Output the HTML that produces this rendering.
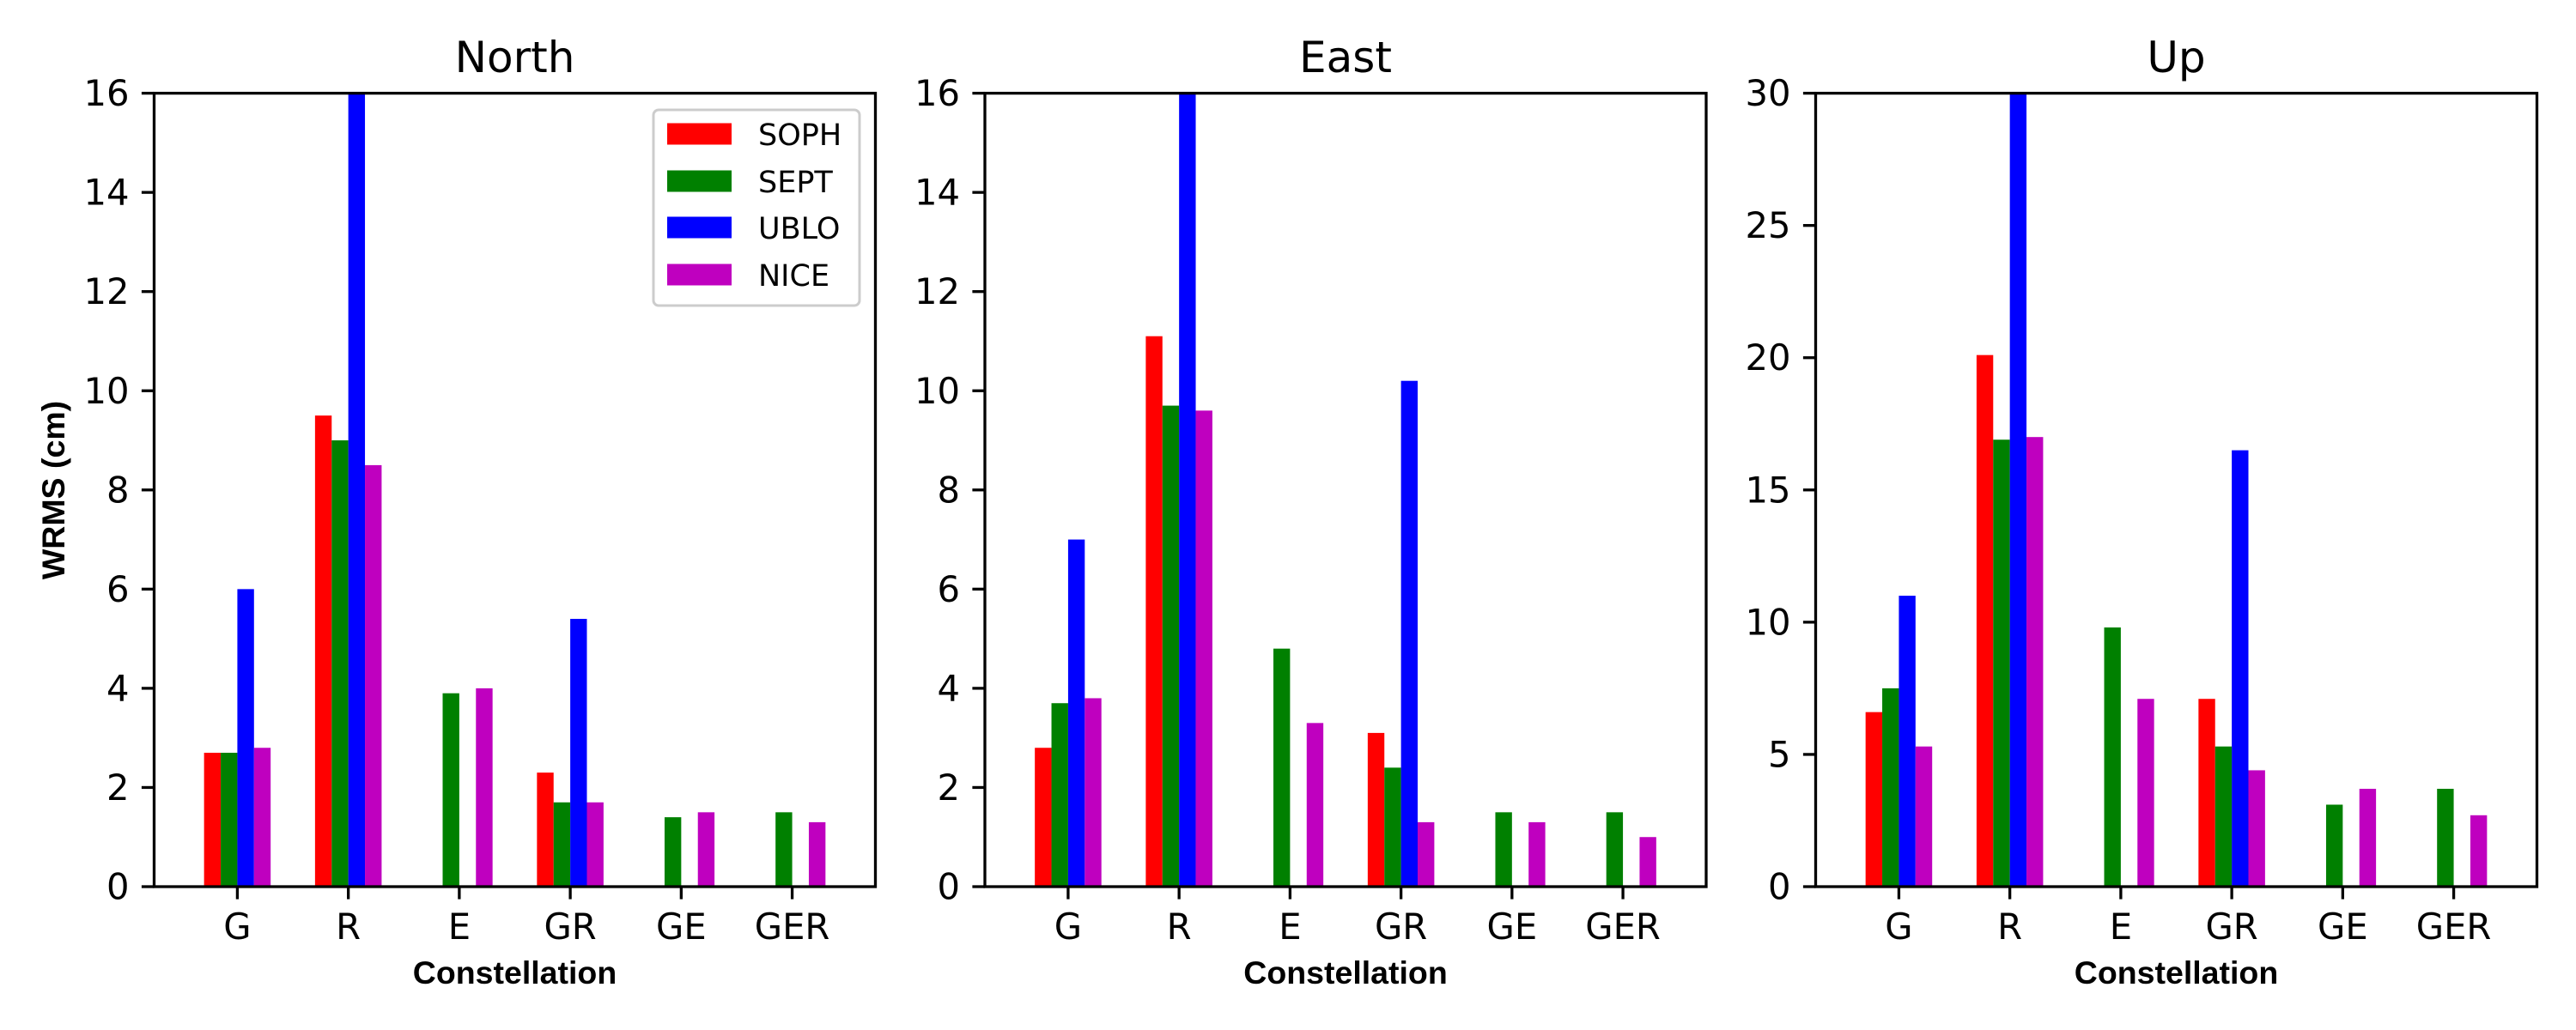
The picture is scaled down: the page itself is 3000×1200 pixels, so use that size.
<!DOCTYPE html>
<html><head><meta charset="utf-8"><style>
html,body{margin:0;padding:0;background:#fff;}
svg{display:block;}
text{font-family:"DejaVu Sans","Liberation Sans",sans-serif;fill:#000;}
.lab{font-family:"Liberation Sans",Arial,sans-serif;font-weight:bold;}
</style></head><body>
<svg id="chart" width="3000" height="1200" viewBox="0 0 3000 1200" xmlns="http://www.w3.org/2000/svg"></svg>
<script>
const categories = ["G","R","E","GR","GE","GER"];
const seriesNames = ["SOPH","SEPT","UBLO","NICE"];
const seriesColors = ["#ff0000","#008000","#0000ff","#bf00bf"];
const panelTitles = ["North","East","Up"];
const northSOPH = [2.7,9.5,0,2.3,0,0];
const northSEPT = [2.7,9.0,3.9,1.7,1.4,1.5];
const northUBLO = [6.0,17,0,5.4,0,0];
const northNICE = [2.8,8.5,4.0,1.7,1.5,1.3];
const eastSOPH = [2.8,11.1,0,3.1,0,0];
const eastSEPT = [3.7,9.7,4.8,2.4,1.5,1.5];
const eastUBLO = [7.0,18,0,10.2,0,0];
const eastNICE = [3.8,9.6,3.3,1.3,1.3,1.0];
const upSOPH = [6.6,20.1,0,7.1,0,0];
const upSEPT = [7.5,16.9,9.8,5.3,3.1,3.7];
const upUBLO = [11.0,32,0,16.5,0,0];
const upNICE = [5.3,17.0,7.1,4.4,3.7,2.7];
const northTicks = [0,2,4,6,8,10,12,14,16];
const eastTicks = [0,2,4,6,8,10,12,14,16];
const upTicks = [0,5,10,15,20,25,30];
const yMaxes = [16,16,30];

const NS="http://www.w3.org/2000/svg";
const svg=document.getElementById('chart');
function mk(tag,attrs,parent){const e=document.createElementNS(NS,tag);for(const k in attrs)e.setAttribute(k,attrs[k]);(parent||svg).appendChild(e);return e;}

const panels=[
 {left:179.5,data:[northSOPH,northSEPT,northUBLO,northNICE],ticks:northTicks},
 {left:1147,data:[eastSOPH,eastSEPT,eastUBLO,eastNICE],ticks:eastTicks},
 {left:2114.5,data:[upSOPH,upSEPT,upUBLO,upNICE],ticks:upTicks}
];
const W=840, TOP=108.6, BOT=1033, H=BOT-TOP;
const X0=-0.75, X1=5.75, BW=0.15;

panels.forEach((p,pi)=>{
  const g=mk('g',{});
  
  
  const xs=v=>p.left+(v-X0)/(X1-X0)*W;
  const ys=v=>BOT-v/yMaxes[pi]*H;
  const cp=mk('clipPath',{id:'clip'+pi},g);
  mk('rect',{x:p.left,y:TOP,width:W,height:H},cp);
  const bars=mk('g',{'clip-path':'url(#clip'+pi+')'},g);
  p.data.forEach((vals,si)=>{
    vals.forEach((v,ci)=>{
      if(v<=0)return;
      const x=xs(ci+(si-2)*BW);
      const r=mk('rect',{x:x,y:ys(v),width:xs(ci+(si-1)*BW)-x,height:BOT-ys(v),fill:seriesColors[si]},bars);
      
      
    });
  });
  // y ticks
  p.ticks.forEach(t=>{
    const y=ys(t);
    mk('line',{x1:p.left-14.6,x2:p.left,y1:y,y2:y,stroke:'#000','stroke-width':3.3},g);
    const tx=mk('text',{x:p.left-29,y:y+14.5,'text-anchor':'end','font-size':41.7},g);
    tx.textContent=t;
    
    
  });
  // x ticks
  categories.forEach((c,ci)=>{
    const x=xs(ci);
    mk('line',{x1:x,x2:x,y1:BOT,y2:BOT+14.6,stroke:'#000','stroke-width':3.3},g);
    const tx=mk('text',{x:x,y:1094,'text-anchor':'middle','font-size':41.7},g);
    tx.textContent=c;
    
    
  });
  const fr=mk('rect',{x:p.left,y:TOP,width:W,height:H,fill:'none',stroke:'#000','stroke-width':3.3},g);
  
  
  const tt=mk('text',{x:p.left+W/2,y:84,'text-anchor':'middle','font-size':50},g);
  tt.textContent=panelTitles[pi];
  
  
  const xl=mk('text',{x:p.left+W/2,y:1146,'text-anchor':'middle','font-size':37.5,'class':'lab'},g);
  xl.textContent='Constellation';
  
  
});

// y label
const yl=mk('text',{x:0,y:0,'text-anchor':'middle','font-size':37.5,'class':'lab',transform:'translate(75,571) rotate(-90)'});
yl.textContent='WRMS (cm)';



// legend
const lg=mk('g',{});


mk('rect',{x:761,y:128,width:240,height:228,rx:6,fill:'#fff','fill-opacity':0.8,stroke:'#cccccc','stroke-width':3},lg);
const rowsY=[156,211,265,320];
seriesNames.forEach((n,i)=>{
  const e=mk('g',{},lg);
  
  
  mk('rect',{x:777,y:rowsY[i]-12.5,width:75,height:25,fill:seriesColors[i]},e);
  const t=mk('text',{x:883,y:rowsY[i]+13,'font-size':35},e);
  t.textContent=n;
});
</script>
</body></html>
